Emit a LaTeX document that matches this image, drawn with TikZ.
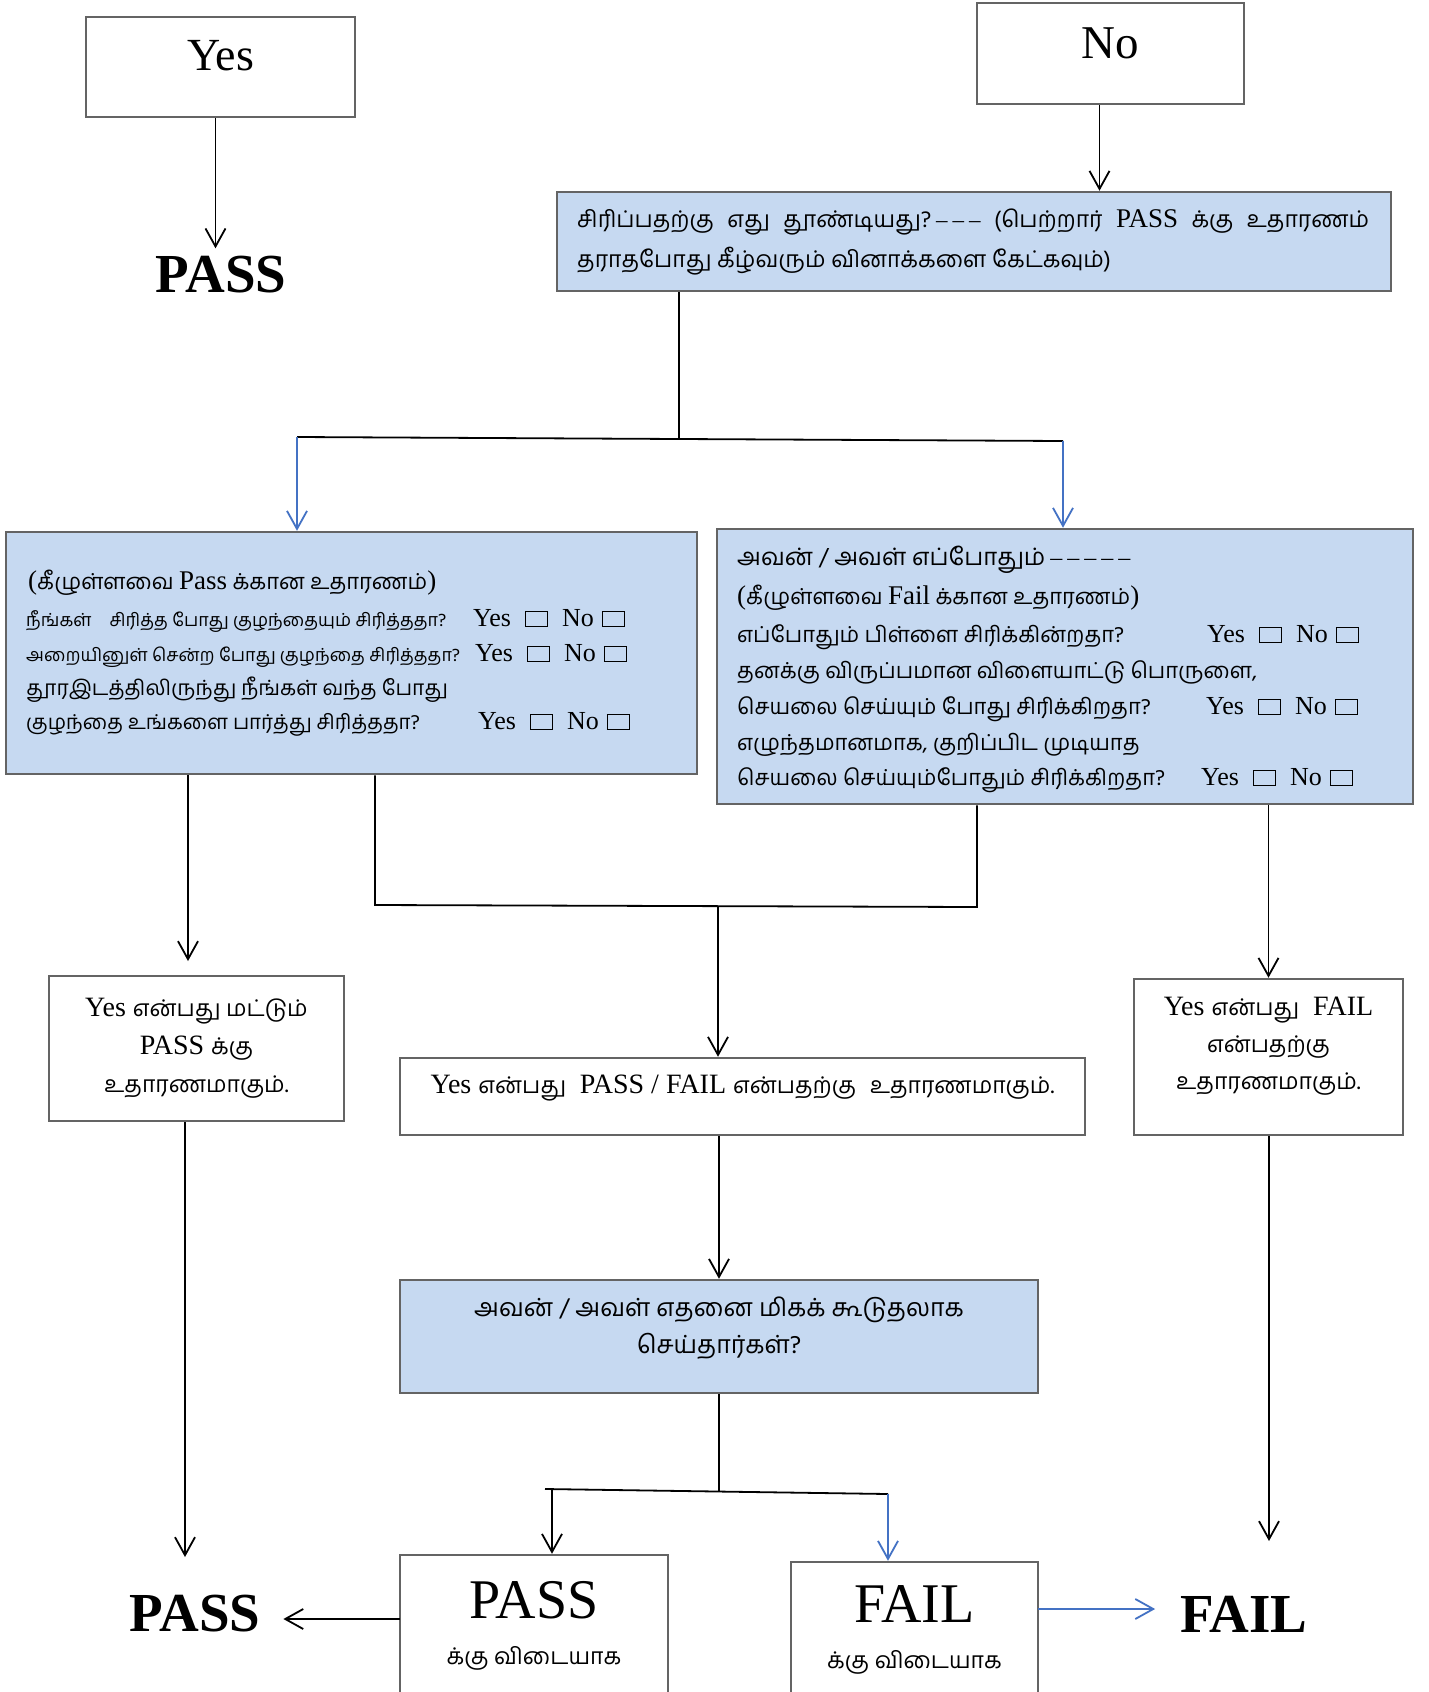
\documentclass[tikz,border=0pt]{standalone}
\usepackage{fontspec}
\setmainfont{Liberation Serif}
\newfontfamily\tamil[Script=Tamil]{Hind Madurai}
\usetikzlibrary{arrows.meta}
\usetikzlibrary{calc}

\definecolor{qblue}{RGB}{198,217,241}
\definecolor{edgegray}{RGB}{100,100,100}
\definecolor{arrblue}{RGB}{68,114,196}

\newcommand{\chk}{{\fboxsep=0pt\fboxrule=1.2pt\framebox[23pt]{\rule{0pt}{14pt}}}}
\newcommand{\yn}{Yes\hspace{14pt}\chk\hspace{14pt}No\hspace{8pt}\chk}
\newcommand{\lat}[1]{{\rmfamily\fontsize{27}{30}\selectfont #1}}
\newcommand{\ta}[1]{{\tamil\fontsize{23}{26}\selectfont #1}}
\newcommand{\shiftup}[2]{\raisebox{#1}[\height][\depth]{#2}}
\newcommand{\dashes}[1]{{\rmfamily\foreach \k in {1,...,#1}{\hspace{5pt}--}}}

\tikzset{
  box/.style={draw=edgegray, line width=2.5pt, inner sep=0pt},
  qbox/.style={box, fill=qblue},
  tline/.style={inner sep=0pt, anchor=west, text height=18pt, text depth=6pt,
                font=\tamil\fontsize{22}{26}\selectfont},
  ynline/.style={tline, font=\rmfamily\fontsize{26}{28}\selectfont},
  big/.style={inner sep=0pt, font=\fontsize{55}{58}\selectfont\bfseries},
  conn/.style={line width=1.8pt, black},
  arr/.style={conn, -{Straight Barb[length=18pt,width=20pt,line width=1.8pt]}},
  barr/.style={arr, arrblue}
}

\begin{document}
\begin{tikzpicture}[x=1pt, y=-1pt]
  \useasboundingbox (0,0) rectangle (1429,1692);
  \fill[white] (0,0) rectangle (1429,1692);

  % top row
  \node[box, minimum width=269pt, minimum height=100pt, font=\fontsize{46}{50}\selectfont] (yes) at (220.5,67) {\shiftup{11pt}{Yes}};
  \node[box, minimum width=267pt, minimum height=101pt, font=\fontsize{47}{50}\selectfont] (no) at (1110.5,53.5) {\shiftup{10pt}{No}};
  \node[big] (passTop) at (221,275) {PASS};

  % first question
  \node[qbox, minimum width=834pt, minimum height=99pt] (q1) at (974,241.5) {};
  \node[tline, font=\tamil\fontsize{23}{26}\selectfont] (q1a) at (577,221)
    {\makebox[792pt][s]{சிரிப்பதற்கு எது தூண்டியது?\dashes{3} (பெற்றார் \lat{PASS} க்கு உதாரணம்}};
  \node[tline, font=\tamil\fontsize{23}{26}\selectfont] (q1b) at (577,261) {தராதபோது கீழ்வரும் வினாக்களை கேட்கவும்)};

  % left question box
  \node[qbox, minimum width=691pt, minimum height=242pt] (lbox) at (351.5,653) {};
  \node[tline] (l0) at (28,583) {\lat{(}கீழுள்ளவை \lat{Pass} க்கான உதாரணம்\lat{)}};
  \node[tline, font=\tamil\fontsize{18}{22}\selectfont] (l1) at (26,620) {நீங்கள்\quad சிரித்த போது குழந்தையும் சிரித்ததா?};
  \node[tline, font=\tamil\fontsize{18}{22}\selectfont] (l2) at (26,655) {அறையினுள் சென்ற போது குழந்தை சிரித்ததா?};
  \node[tline, font=\tamil\fontsize{21}{26}\selectfont] (l3) at (26,689) {தூரஇடத்திலிருந்து நீங்கள் வந்த போது};
  \node[tline, font=\tamil\fontsize{20.5}{26}\selectfont] (l4) at (26,723) {குழந்தை உங்களை பார்த்து சிரித்ததா?};
  \foreach \x/\y/\n in {473/620/1, 475/655/2, 478/723/4}
    \node[ynline] (lyn\n) at (\x,\y) {\yn};

  % right question box
  \node[qbox, minimum width=696pt, minimum height=275pt] (rbox) at (1065,666.5) {};
  \node[tline, font=\tamil\fontsize{24}{26}\selectfont] (r0) at (737,559) {அவன் / அவள் எப்போதும்\dashes{5}};
  \node[tline] (r1) at (737,598) {\lat{(}கீழுள்ளவை \lat{Fail} க்கான உதாரணம்\lat{)}};
  \node[tline] (r2) at (737,636) {எப்போதும் பிள்ளை சிரிக்கின்றதா?};
  \node[tline] (r3) at (737,672) {தனக்கு விருப்பமான விளையாட்டு பொருளை,};
  \node[tline] (r4) at (737,708) {செயலை செய்யும் போது சிரிக்கிறதா?};
  \node[tline] (r5) at (737,744) {எழுந்தமானமாக, குறிப்பிட முடியாத};
  \node[tline] (r6) at (737,779) {செயலை செய்யும்போதும் சிரிக்கிறதா?};
  \foreach \x/\y/\n in {1207/636/2, 1206/708/4, 1201/779/6}
    \node[ynline] (ryn\n) at (\x,\y) {\yn};

  % answer boxes
  \node[box, minimum width=295pt, minimum height=145pt, align=center, font=\rmfamily\fontsize{28}{38}\selectfont] (boxA) at (196.5,1048.5)
    {Yes \ta{என்பது மட்டும்}\\PASS \ta{க்கு}\\\ta{உதாரணமாகும்.}};
  \node[box, minimum width=685pt, minimum height=77pt, font=\rmfamily\fontsize{28}{38}\selectfont] (boxB) at (742.5,1096.5)
    {\shiftup{8pt}{Yes \ta{என்பது}\ \ PASS / FAIL \ta{என்பதற்கு}\ \ \ta{உதாரணமாகும்.}}};
  \node[box, minimum width=269pt, minimum height=156pt, font=\rmfamily\fontsize{28}{37}\selectfont] (boxC) at (1268.5,1057)
    {\shiftup{12pt}{\begin{tabular}{@{}c@{}}Yes \ta{என்பது}\ \ FAIL\\\ta{என்பதற்கு}\\\ta{உதாரணமாகும்.}\end{tabular}}};

  % second question
  \node[qbox, minimum width=638pt, minimum height=113pt, font=\tamil\fontsize{25}{37}\selectfont] (boxD) at (719,1336.5)
    {\shiftup{9pt}{\begin{tabular}{@{}c@{}}அவன் / அவள் எதனை மிகக் கூடுதலாக\\செய்தார்கள்?\end{tabular}}};

  % results
  \node[box, minimum width=268pt, minimum height=142pt, align=center, font=\fontsize{56}{46}\selectfont] (boxE) at (534,1626)
    {PASS\\\ta{க்கு விடையாக}};
  \node[box, minimum width=247pt, minimum height=135pt, align=center, font=\fontsize{56}{46}\selectfont] (boxF) at (914.5,1629.5)
    {FAIL\\\ta{க்கு விடையாக}};
  \node[big] (passBot) at (195,1614) {PASS};
  \node[big] (failBot) at (1244,1614) {FAIL};

  % branch points
  \coordinate (qs) at (679,438);
  \coordinate (ql) at (297,437);
  \coordinate (qr) at (1063,441);
  \coordinate (mL) at (375,905);
  \coordinate (mR) at (977,907);
  \coordinate (mM) at (718,906);
  \coordinate (aTip) at (188,961);
  \coordinate (pTip) at (185,1557);
  \coordinate (fTip) at (1269,1541);
  \coordinate (dS) at (719,1491);
  \coordinate (dL) at (545,1489);
  \coordinate (dR) at (888,1494);
  \coordinate (dA) at (552,1489.5);
  \coordinate (eY) at (400,1619);
  \coordinate (fY) at (1038,1609);

  % connectors
  \draw[arr, shorten >=8pt] ([xshift=-5pt]yes.south) -- ([xshift=-5pt]yes.south |- passTop.north);
  \draw[arr] ([xshift=-11pt]no.south) -- ([xshift=-11pt]no.south |- q1.north);
  \draw[conn] (q1.south -| qs) -- (qs);
  \draw[conn] (ql) -- (qr);
  \draw[barr] (ql) -- (ql |- lbox.north);
  \draw[barr] (qr) -- (qr |- rbox.north);

  \draw[arr] (lbox.south -| aTip) -- (aTip);
  \draw[conn] (lbox.south -| mL) -- (mL) -- (mR) -- (rbox.south -| mR);
  \draw[arr] (mM) -- (mM |- boxB.north);
  \draw[arr] (rbox.south -| boxC.north) -- (boxC.north);

  \draw[arr] (boxA.south -| pTip) -- (pTip);
  \draw[arr] (boxB.south -| boxD.north) -- (boxD.north);
  \draw[arr] (boxC.south -| fTip) -- (fTip);

  \draw[conn] (boxD.south) -- (dS);
  \draw[conn] (dL) -- (dR);
  \draw[arr] (dA) -- (dA |- boxE.north);
  \draw[barr] (dR) -- (dR |- boxF.north);
  \draw[arr, shorten >=23pt] (eY) -- (eY -| passBot.east);
  \draw[barr, shorten >=25pt] (fY) -- (fY -| failBot.west);
\end{tikzpicture}
\end{document}
